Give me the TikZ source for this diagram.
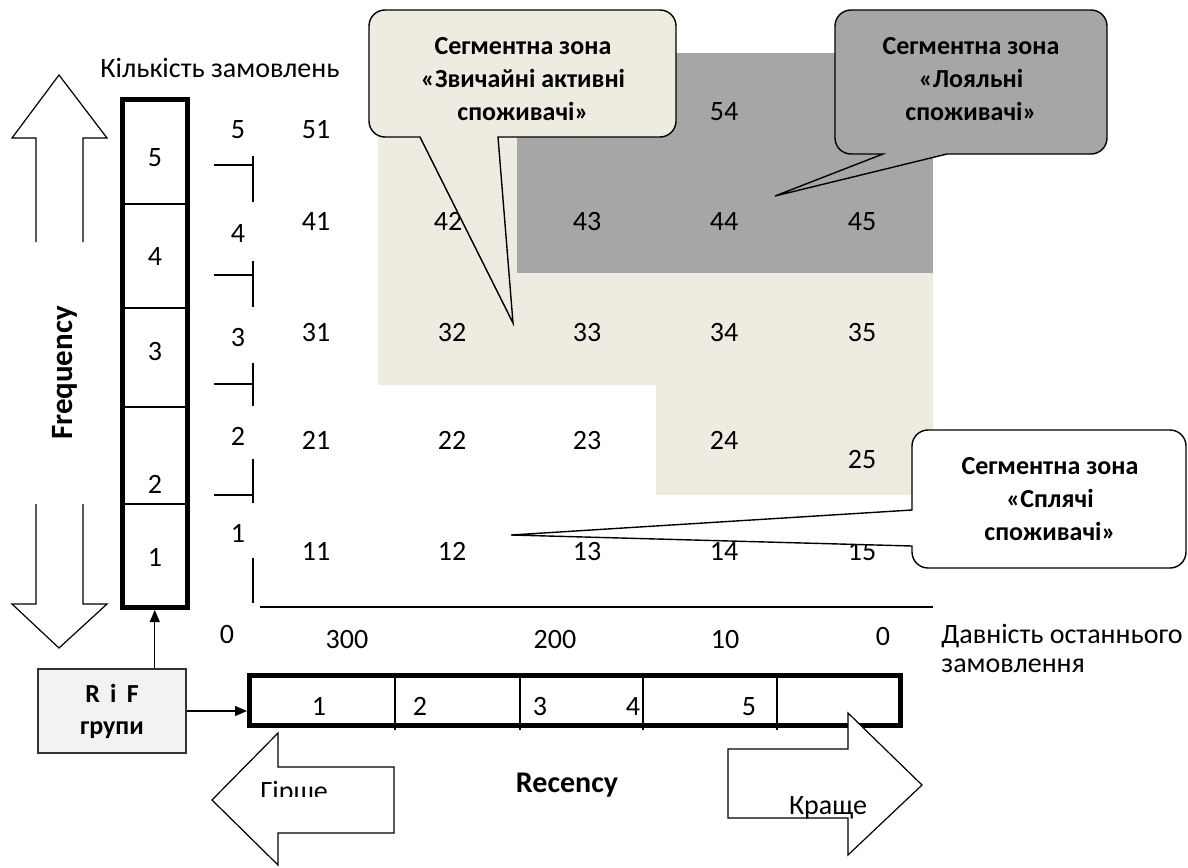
\documentclass[tikz,border=0pt]{standalone}
\usepackage{fontspec}
\setmainfont{Carlito}
\usepackage{tikz}
\usetikzlibrary{arrows.meta}
\definecolor{zonebeige}{RGB}{238,236,225}
\definecolor{zonegrey}{RGB}{166,166,166}
\definecolor{rifgrey}{RGB}{242,242,242}
\tikzset{
  num/.style={font=\fontsize{14}{16}\selectfont, inner sep=0pt, text height=8.85pt, text depth=0pt},
  label/.style={font=\fontsize{14}{14.6}\selectfont, inner sep=0pt},
  zonetxt/.style={font=\bfseries\fontsize{13}{16.5}\selectfont, align=center, inner sep=0pt},
  bubble/.style={draw=black, line width=0.7pt, rounded corners=8pt},
  blockarrow/.style={draw=black, line width=0.6pt, fill=white},
  tick/.style={line width=0.8pt},
  divider/.style={line width=0.6pt},
  heavybox/.style={draw=black, line width=2.5pt, inner sep=0pt},
  arr/.style={-{Triangle[length=6pt,width=5pt]}, line width=0.6pt}
}
\begin{document}
\begin{tikzpicture}[x=0.5pt,y=-0.5pt]
\useasboundingbox (0,0) rectangle (1188,867);

% segment zones
\fill[zonebeige] (378,53) -- (933,53) -- (933,495) -- (656,495) -- (656,385) -- (378,385) -- cycle;
\fill[zonegrey] (517,53) rectangle (933,273);

% frequency side
\draw[blockarrow, fill=none] (36,242) -- (36,138) -- (12,138) -- (59,75) -- (107,138) -- (83,138) -- (83,242);
\draw[blockarrow, fill=none] (36,504) -- (36,604) -- (12,604) -- (59,648) -- (107,604) -- (83,604) -- (83,504);
\node[font=\bfseries\fontsize{15.5}{16}\selectfont, rotate=90] (freqlbl) at (65,373) {Frequency};
\node[label, anchor=base] (qty) at (220,77) {Кількість замовлень};

\node[heavybox, minimum width=32.75pt, minimum height=254pt] (fcol) at (154.75,353.5) {};
\foreach \py in {204,308,407,504}
  \draw[divider] (122,\py) -- (187.5,\py);
\foreach \lbl/\py in {5/158, 4/257, 3/352, 2/485, 1/558}
  \node[num] (f\lbl) at (155,\py) {\lbl};

% ticks of the frequency axis
\foreach \lbl/\ly/\hy/\vt/\vb in {5/130/165/156/202, 4/234/275/261/307, 3/338/384/363/406, 2/437/495/459/503}
{
  \node[num] (t\lbl) at (238,\ly) {\lbl};
  \draw[tick] (214,\hy) -- (253,\hy);
  \draw[tick] (253,\vt) -- (253,\vb);
}
\node[num] (t1) at (238,534) {1};
\draw[tick] (253,558) -- (253,603);
\draw[line width=1pt] (260,607) -- (933,607);

% RF cells
\foreach \lbl/\px/\py in {51/316/130, 54/724/112,
  41/316/222, 42/448/222, 43/587/222, 44/724/222, 45/862/222,
  31/316/333, 32/452/333, 33/587/333, 34/724/333, 35/862/333,
  21/316/441, 22/452/441, 23/587/441, 24/724/441, 25/862/460,
  11/316/552, 12/452/552, 13/587/552, 14/724/552, 15/862/552}
  \node[num] (c\lbl) at (\px,\py) {\lbl};

% callouts
\draw[bubble, fill=zonebeige] (369,73) -- (369,10) -- (676,10) -- (676,137) [sharp corners] -- (498,137) -- (513,323) -- (420,137) [rounded corners=8pt] -- (369,137) -- cycle;
\node[zonetxt] (zone1) at (523,79) {Сегментна зона\\«Звичайні активні\\споживачі»};

\draw[bubble, fill=zonegrey] (835,82) -- (835,10) -- (1107,10) -- (1107,154) [sharp corners] -- (947,154) -- (775,196) -- (883,154) [rounded corners=8pt] -- (835,154) -- cycle;
\node[zonetxt] (zone2) at (971,79) {Сегментна зона\\«Лояльні\\споживачі»};

\draw[bubble, fill=white] (1050,430) -- (1186,430) -- (1186,568) -- (912,568) [sharp corners] -- (912,546) -- (511,535) -- (912,510) [rounded corners=8pt] -- (912,430) -- cycle;
\node[zonetxt] (zone3) at (1050,499) {Сегментна зона\\«Сплячі\\споживачі»};

% recency side
\foreach \lbl/\px/\py [count=\i] in {0/227/635, 300/347/640, 200/555/640, 10/725/640, 0/883/637}
  \node[num] (s\i) at (\px,\py) {\lbl};
\node[label, anchor=north west, align=left] (since) at (941,624) {Давність останнього\\замовлення};

\node[heavybox, minimum width=325.5pt, minimum height=25pt] (rbar) at (575,700.5) {};
\foreach \px in {395,520,643,777}
  \draw[divider] (\px,675.5) -- (\px,730);
\foreach \lbl/\px in {1/319, 2/420, 3/540, 4/633, 5/749}
  \node[num] (r\lbl) at (\px,707) {\lbl};

\draw[blockarrow] (394,767) -- (278,767) -- (278,733) -- (212,800) -- (278,865) -- (278,833) -- (394,833) -- cycle;
\begin{scope}
  \clip (250,770) rectangle (400,796);
  \node[label, anchor=base west] (worse) at (260,800) {Гірше};
\end{scope}
\draw[blockarrow] (728,749) -- (848,749) -- (848,713) -- (922,785) -- (848,855) -- (848,818) -- (728,818) -- cycle;
\node[label, anchor=base] (better) at (828,814) {Краще};
\node[font=\bfseries\fontsize{15}{16}\selectfont, anchor=base, inner sep=0pt] (reclbl) at (567,792) {Recency};

% R and F groups
\node[draw=black!80, line width=0.7pt, fill=rifgrey, minimum width=74pt, minimum height=42pt, inner sep=0pt, align=center, font=\bfseries\fontsize{13}{16}\selectfont] (rif) at (112,711) {R\, i\, F\\групи};
\draw[arr] (rif.north -| fcol.south) -- (fcol.south);
\draw[arr] (rif.east) -- (rif.east -| rbar.west);
\end{tikzpicture}
\end{document}
